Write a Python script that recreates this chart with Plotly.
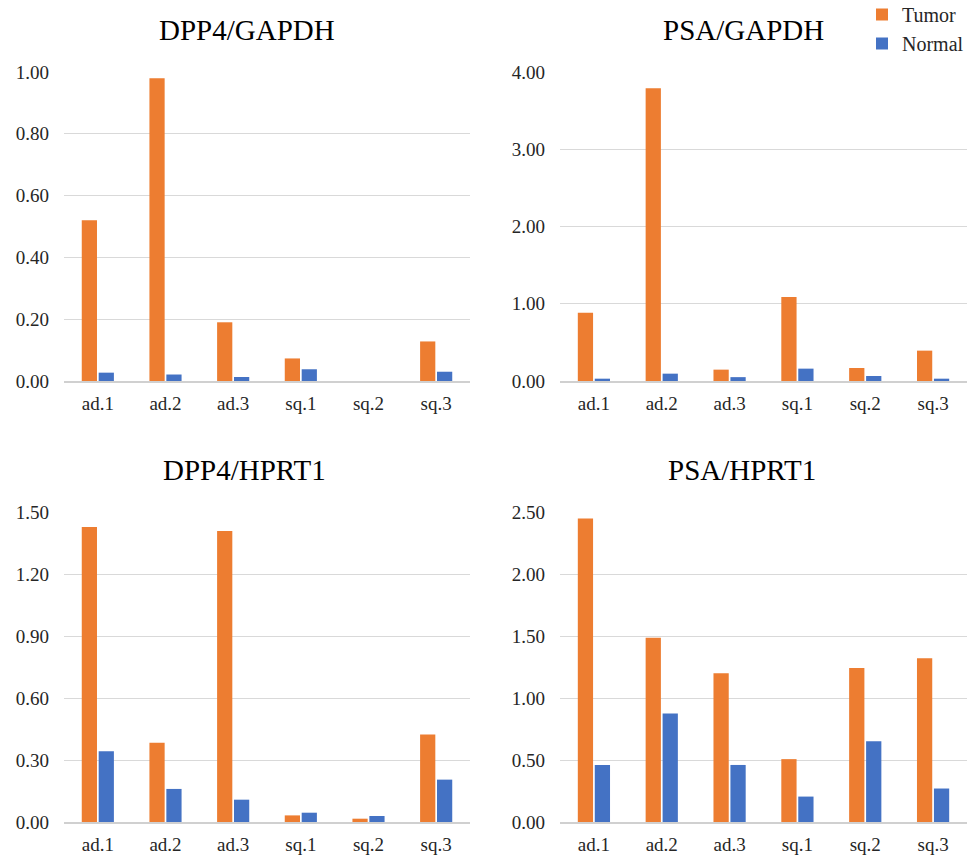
import plotly.graph_objects as go

categories = ["ad.1", "ad.2", "ad.3", "sq.1", "sq.2", "sq.3"]
series_names = ["Tumor", "Normal"]
colors = ["#ED7D31", "#4472C4"]

panel_titles = ["DPP4/GAPDH", "PSA/GAPDH", "DPP4/HPRT1", "PSA/HPRT1"]

dpp4_gapdh_tumor = [0.52, 0.98, 0.19, 0.073, 0.0, 0.128]
dpp4_gapdh_normal = [0.027, 0.021, 0.013, 0.038, 0.0, 0.030]

psa_gapdh_tumor = [0.885, 3.79, 0.147, 1.087, 0.168, 0.393]
psa_gapdh_normal = [0.03, 0.095, 0.05, 0.16, 0.065, 0.03]

dpp4_hprt1_tumor = [1.427, 0.384, 1.408, 0.032, 0.016, 0.423]
dpp4_hprt1_normal = [0.342, 0.16, 0.108, 0.045, 0.029, 0.205]

psa_hprt1_tumor = [2.447, 1.485, 1.20, 0.507, 1.242, 1.32]
psa_hprt1_normal = [0.46, 0.875, 0.46, 0.205, 0.652, 0.27]

y_ranges = [[0, 1.0], [0, 4.0], [0, 1.5], [0, 2.5]]
y_dticks = [0.2, 1.0, 0.3, 0.5]

panels = [
    (dpp4_gapdh_tumor, dpp4_gapdh_normal),
    (psa_gapdh_tumor, psa_gapdh_normal),
    (dpp4_hprt1_tumor, dpp4_hprt1_normal),
    (psa_hprt1_tumor, psa_hprt1_normal),
]

W, H = 971, 856
FONT = "Liberation Serif, Times New Roman, serif"

# pixel layout of plot areas (left, right, top, bottom)
areas = [
    (64, 470, 72, 381),
    (560, 967, 72, 381),
    (64, 470, 512, 822),
    (560, 967, 512, 822),
]
title_pos = [(247, 30), (743, 30), (245, 470), (742, 470)]

fig = go.Figure()
layout = dict(
    width=W, height=H,
    margin=dict(l=0, r=0, t=0, b=0, pad=0, autoexpand=False),
    paper_bgcolor="white", plot_bgcolor="white",
    barmode="group", bargap=0.5, bargroupgap=0.1,
    font=dict(family=FONT, color="#262626", size=19),
    showlegend=True,
    legend=dict(x=862 / W, y=1 + 5 / H, xanchor="left", yanchor="top",
                font=dict(family=FONT, size=20, color="#262626"),
                bgcolor="rgba(0,0,0,0)", tracegroupgap=0,
                itemsizing="constant"),
)

annotations = []
for i, (vals, area, rng, dt, title, tpos) in enumerate(
        zip(panels, areas, y_ranges, y_dticks, panel_titles, title_pos)):
    xa = "x" if i == 0 else f"x{i+1}"
    ya = "y" if i == 0 else f"y{i+1}"
    for s, (name, col) in enumerate(zip(series_names, colors)):
        fig.add_trace(go.Bar(
            x=categories, y=vals[s], name=name, marker_color=col,
            marker_line_width=0, xaxis=xa, yaxis=ya,
            showlegend=(i == 1), legendgroup=name,
        ))
    l, r, t, b = area
    xkey = "xaxis" if i == 0 else f"xaxis{i+1}"
    ykey = "yaxis" if i == 0 else f"yaxis{i+1}"
    layout[xkey] = dict(
        domain=[l / W, r / W], anchor=ya, automargin=False,
        showgrid=False, showline=True, linecolor="#d0d0d0", linewidth=1.5,
        ticks="", tickfont=dict(family=FONT, size=19, color="#262626"),
        ticklabelstandoff=4, fixedrange=True,
    )
    layout[ykey] = dict(
        domain=[1 - b / H, 1 - t / H], anchor=xa, automargin=False,
        range=rng, dtick=dt, tick0=0, tickformat=".2f",
        showgrid=True, gridcolor="#d9d9d9", gridwidth=1,
        zeroline=False, showline=False, ticks="",
        tickfont=dict(family=FONT, size=19, color="#262626"),
        ticklabelstandoff=14, fixedrange=True,
    )
    annotations.append(dict(
        text=title, x=tpos[0] / W, y=1 - tpos[1] / H, xref="paper", yref="paper",
        xanchor="center", yanchor="middle", showarrow=False,
        font=dict(family=FONT, size=29, color="black"),
    ))

layout["annotations"] = annotations
fig.update_layout(**layout)
fig.write_html(
    "out.html",
    config={"displayModeBar": False},
    post_script="document.body.style.margin='0';document.body.style.overflow='hidden';",
)
